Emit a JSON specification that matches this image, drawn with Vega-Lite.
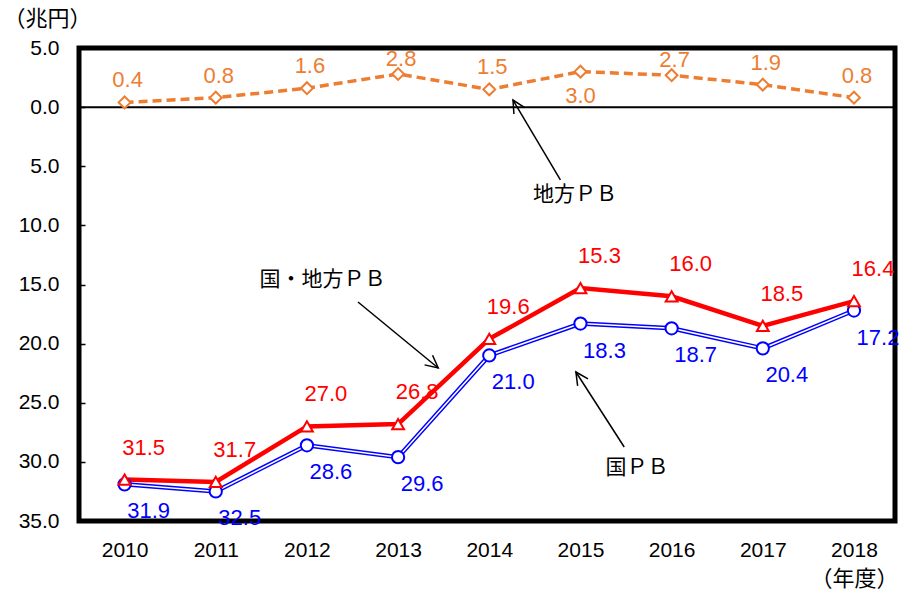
{
  "$schema": "https://vega.github.io/schema/vega-lite/v6.json",
  "width": 816,
  "height": 473,
  "autosize": {"type": "none"},
  "padding": {"left": 79, "top": 48, "right": 7, "bottom": 71},
  "background": "white",
  "config": {
    "view": {"stroke": "black", "strokeWidth": 5},
    "axis": {"grid": false, "labelColor": "black", "labelFont": "Liberation Sans", "labelFontSize": 21, "labelFontWeight": "normal", "titleColor": "black", "titleFont": "Noto Sans CJK JP", "titleFontSize": 22, "titleFontWeight": "normal"}
  },
  "datasets": {
    "pb": [
      {"year": 2010, "series": "国・地方PB", "value": -31.5},
      {"year": 2011, "series": "国・地方PB", "value": -31.7},
      {"year": 2012, "series": "国・地方PB", "value": -27.0},
      {"year": 2013, "series": "国・地方PB", "value": -26.8},
      {"year": 2014, "series": "国・地方PB", "value": -19.6},
      {"year": 2015, "series": "国・地方PB", "value": -15.3},
      {"year": 2016, "series": "国・地方PB", "value": -16.0},
      {"year": 2017, "series": "国・地方PB", "value": -18.5},
      {"year": 2018, "series": "国・地方PB", "value": -16.4},
      {"year": 2010, "series": "国PB", "value": -31.9},
      {"year": 2011, "series": "国PB", "value": -32.5},
      {"year": 2012, "series": "国PB", "value": -28.6},
      {"year": 2013, "series": "国PB", "value": -29.6},
      {"year": 2014, "series": "国PB", "value": -21.0},
      {"year": 2015, "series": "国PB", "value": -18.3},
      {"year": 2016, "series": "国PB", "value": -18.7},
      {"year": 2017, "series": "国PB", "value": -20.4},
      {"year": 2018, "series": "国PB", "value": -17.2},
      {"year": 2010, "series": "地方PB", "value": 0.4},
      {"year": 2011, "series": "地方PB", "value": 0.8},
      {"year": 2012, "series": "地方PB", "value": 1.6},
      {"year": 2013, "series": "地方PB", "value": 2.8},
      {"year": 2014, "series": "地方PB", "value": 1.5},
      {"year": 2015, "series": "地方PB", "value": 3.0},
      {"year": 2016, "series": "地方PB", "value": 2.7},
      {"year": 2017, "series": "地方PB", "value": 1.9},
      {"year": 2018, "series": "地方PB", "value": 0.8}
    ],
    "notes": [
      {"name": "local", "label": "地方ＰＢ", "x": 2014.94, "y": -7.43},
      {"name": "total", "label": "国・地方ＰＢ", "x": 2012.17, "y": -14.62},
      {"name": "national", "label": "国ＰＢ", "x": 2015.62, "y": -30.52}
    ],
    "arrows": [
      {"name": "local", "x1": 2014.78, "y1": -6.16, "x2": 2014.26, "y2": 0.6},
      {"name": "total", "x1": 2012.56, "y1": -16.48, "x2": 2013.44, "y2": -22.06},
      {"name": "national", "x1": 2015.48, "y1": -28.74, "x2": 2014.95, "y2": -22.4}
    ]
  },
  "layer": [
    {
      "data": {"name": "pb"},
      "transform": [{"filter": "datum.series === '地方PB'"}],
      "mark": {"type": "line", "color": "#ED7D31", "strokeWidth": 3.5, "strokeDash": [9, 5]},
      "encoding": {
        "x": {"field": "year", "type": "quantitative", "scale": {"domain": [2009.5, 2018.45], "nice": false, "zero": false},
          "axis": {"values": [2010, 2011, 2012, 2013, 2014, 2015, 2016, 2017, 2018], "format": "d", "ticks": false, "domain": false, "labelPadding": 18, "labelFlush": false,
            "title": "（年度）", "titleAlign": "right", "titleAnchor": "start", "titleX": 819, "titleY": 69, "titleBaseline": "bottom"}},
        "y": {"field": "value", "type": "quantitative", "scale": {"domain": [-35, 5], "nice": false, "zero": false},
          "axis": {"values": [-35, -30, -25, -20, -15, -10, -5, 0, 5], "labelExpr": "format(abs(datum.value), '.1f')", "domain": false, "ticks": true, "tickSize": -6, "tickColor": "black", "tickWidth": 1.5, "labelPadding": 26, "labelFlush": false,
            "title": "（兆円）", "titleAngle": 0, "titleAlign": "left", "titleAnchor": "start", "titleX": -76, "titleY": -18, "titleBaseline": "bottom"}}
      }
    },
    {
      "data": {"values": [{"zero": 0}]},
      "mark": {"type": "rule", "color": "black", "strokeWidth": 2},
      "encoding": {"y": {"field": "zero", "type": "quantitative"}}
    },
    {
      "data": {"name": "pb"},
      "transform": [{"filter": "datum.series === '国PB'"}],
      "mark": {"type": "line", "color": "#0000FF", "strokeWidth": 4.5},
      "encoding": {"x": {"field": "year", "type": "quantitative"}, "y": {"field": "value", "type": "quantitative"}}
    },
    {
      "data": {"name": "pb"},
      "transform": [{"filter": "datum.series === '国PB'"}],
      "mark": {"type": "line", "color": "white", "strokeWidth": 1.5},
      "encoding": {"x": {"field": "year", "type": "quantitative"}, "y": {"field": "value", "type": "quantitative"}}
    },
    {
      "data": {"name": "pb"},
      "transform": [{"filter": "datum.series === '国・地方PB'"}],
      "mark": {"type": "line", "color": "#FF0000", "strokeWidth": 4.5},
      "encoding": {"x": {"field": "year", "type": "quantitative"}, "y": {"field": "value", "type": "quantitative"}}
    },
    {
      "data": {"name": "pb"},
      "transform": [{"filter": "datum.series === '地方PB'"}],
      "mark": {"type": "point", "shape": "diamond", "size": 140, "filled": true, "fill": "white", "stroke": "#ED7D31", "strokeWidth": 2, "opacity": 1},
      "encoding": {"x": {"field": "year", "type": "quantitative"}, "y": {"field": "value", "type": "quantitative"}}
    },
    {
      "data": {"name": "pb"},
      "transform": [{"filter": "datum.series === '国PB'"}],
      "mark": {"type": "point", "shape": "circle", "size": 150, "filled": true, "fill": "white", "stroke": "#0000FF", "strokeWidth": 2, "opacity": 1},
      "encoding": {"x": {"field": "year", "type": "quantitative"}, "y": {"field": "value", "type": "quantitative"}}
    },
    {
      "data": {"name": "pb"},
      "transform": [{"filter": "datum.series === '国・地方PB'"}],
      "mark": {"type": "point", "shape": "triangle-up", "size": 140, "filled": true, "fill": "white", "stroke": "#FF0000", "strokeWidth": 2, "opacity": 1},
      "encoding": {"x": {"field": "year", "type": "quantitative"}, "y": {"field": "value", "type": "quantitative"}}
    },
    {
      "data": {"name": "pb"},
      "transform": [{"filter": "datum.series === '国・地方PB'"}, {"calculate": "format(abs(datum.value), '.1f')", "as": "label"}],
      "mark": {"type": "text", "color": "#FF0000", "font": "Liberation Sans", "fontSize": 22, "dx": 19, "dy": -32, "baseline": "middle", "align": "center"},
      "encoding": {"x": {"field": "year", "type": "quantitative"}, "y": {"field": "value", "type": "quantitative"}, "text": {"field": "label"}}
    },
    {
      "data": {"name": "pb"},
      "transform": [{"filter": "datum.series === '国PB'"}, {"calculate": "format(abs(datum.value), '.1f')", "as": "label"}],
      "mark": {"type": "text", "color": "#0000FF", "font": "Liberation Sans", "fontSize": 22, "dx": 24, "dy": 27, "baseline": "middle", "align": "center"},
      "encoding": {"x": {"field": "year", "type": "quantitative"}, "y": {"field": "value", "type": "quantitative"}, "text": {"field": "label"}}
    },
    {
      "data": {"name": "pb"},
      "transform": [{"filter": "datum.series === '地方PB' && datum.year !== 2015 && datum.year !== 2013 && datum.year !== 2016"}, {"calculate": "format(abs(datum.value), '.1f')", "as": "label"}],
      "mark": {"type": "text", "color": "#ED7D31", "font": "Liberation Sans", "fontSize": 22, "dx": 3, "dy": -22, "baseline": "middle", "align": "center"},
      "encoding": {"x": {"field": "year", "type": "quantitative"}, "y": {"field": "value", "type": "quantitative"}, "text": {"field": "label"}}
    },
    {
      "data": {"name": "pb"},
      "transform": [{"filter": "datum.series === '地方PB' && (datum.year === 2013 || datum.year === 2016)"}, {"calculate": "format(abs(datum.value), '.1f')", "as": "label"}],
      "mark": {"type": "text", "color": "#ED7D31", "font": "Liberation Sans", "fontSize": 22, "dx": 3, "dy": -15, "baseline": "middle", "align": "center"},
      "encoding": {"x": {"field": "year", "type": "quantitative"}, "y": {"field": "value", "type": "quantitative"}, "text": {"field": "label"}}
    },
    {
      "data": {"name": "pb"},
      "transform": [{"filter": "datum.series === '地方PB' && datum.year === 2015"}, {"calculate": "format(abs(datum.value), '.1f')", "as": "label"}],
      "mark": {"type": "text", "color": "#ED7D31", "font": "Liberation Sans", "fontSize": 22, "dx": 0, "dy": 24, "baseline": "middle", "align": "center"},
      "encoding": {"x": {"field": "year", "type": "quantitative"}, "y": {"field": "value", "type": "quantitative"}, "text": {"field": "label"}}
    },
    {
      "data": {"name": "notes"},
      "mark": {"type": "text", "color": "black", "font": "Noto Sans CJK JP", "fontSize": 21, "baseline": "middle", "align": "center"},
      "encoding": {"x": {"field": "x", "type": "quantitative"}, "y": {"field": "y", "type": "quantitative"}, "text": {"field": "label"}}
    },
    {
      "data": {"name": "arrows"},
      "mark": {"type": "rule", "color": "black", "strokeWidth": 1.5},
      "encoding": {"x": {"field": "x1", "type": "quantitative"}, "y": {"field": "y1", "type": "quantitative"}, "x2": {"field": "x2"}, "y2": {"field": "y2"}}
    },
    {
      "data": {"name": "arrows"},
      "transform": [{"filter": "datum.name === 'local'"}],
      "mark": {"type": "point", "shape": "M-0.5,1L0,0L0.5,1", "size": 625, "filled": false, "color": "black", "strokeWidth": 1.5, "opacity": 1, "angle": 329.6},
      "encoding": {"x": {"field": "x2", "type": "quantitative"}, "y": {"field": "y2", "type": "quantitative"}}
    },
    {
      "data": {"name": "arrows"},
      "transform": [{"filter": "datum.name === 'total'"}],
      "mark": {"type": "point", "shape": "M-0.5,1L0,0L0.5,1", "size": 625, "filled": false, "color": "black", "strokeWidth": 1.5, "opacity": 1, "angle": 129.5},
      "encoding": {"x": {"field": "x2", "type": "quantitative"}, "y": {"field": "y2", "type": "quantitative"}}
    },
    {
      "data": {"name": "arrows"},
      "transform": [{"filter": "datum.name === 'national'"}],
      "mark": {"type": "point", "shape": "M-0.5,1L0,0L0.5,1", "size": 625, "filled": false, "color": "black", "strokeWidth": 1.5, "opacity": 1, "angle": 326.3},
      "encoding": {"x": {"field": "x2", "type": "quantitative"}, "y": {"field": "y2", "type": "quantitative"}}
    }
  ]
}
